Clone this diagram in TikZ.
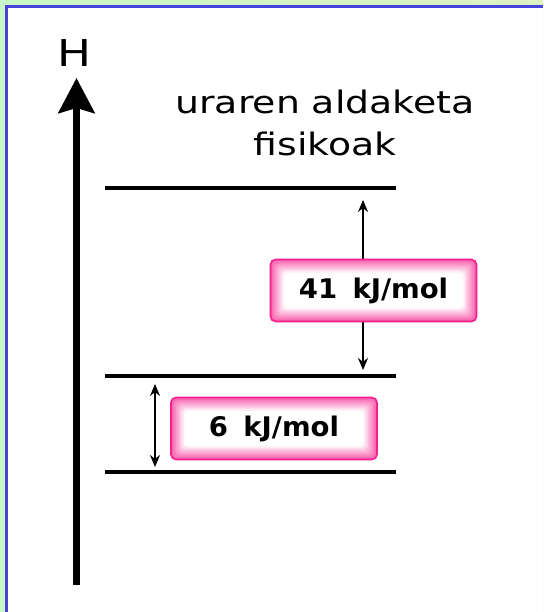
\documentclass[tikz,border=0pt]{standalone}
\usepackage{fontspec}
\setmainfont[FakeStretch=1.22]{DejaVu Sans}
\newfontfamily\boxfont[FakeStretch=1.02,WordSpace=1.6]{DejaVu Sans}
\usetikzlibrary{arrows.meta,calc,positioning}

\definecolor{bggreen}{HTML}{C9F7C6}
\definecolor{bgyellow}{HTML}{DDF1C2}
\definecolor{frameblue}{HTML}{4444DD}
\definecolor{boxpink}{HTML}{F5218E}

\tikzset{
	level/.style={line width=4pt},
	dblarrow/.style={line width=1.5pt,{Stealth[length=12pt,width=10pt]}-{Stealth[length=12pt,width=10pt]}},
	glowbox/.style={draw=boxpink,line width=1.6pt,rounded corners=5pt,
		minimum width=206pt,minimum height=62pt,
		font=\boxfont\bfseries\fontsize{27}{30}\selectfont,
		path picture={
			\foreach \i [evaluate=\i as \p using {int(max(0,72-7*\i))}] in {0,...,11}
				\fill[boxpink!\p!white,rounded corners=4pt]
					($(path picture bounding box.south west)+(\i*1.3pt,\i*1.3pt)$) rectangle
					($(path picture bounding box.north east)-(\i*1.3pt,\i*1.3pt)$);
		}}
}

\begin{document}
\begin{tikzpicture}[x=1pt,y=-1pt]
	\useasboundingbox (0,0) rectangle (543,612);
	% slide background
	\shade[left color=bggreen,right color=bgyellow] (0,0) rectangle (543,612);
	\fill[white] (7,7) rectangle (543,612);
	\draw[frameblue,line width=2.2pt] (6.5,612) -- (6.5,6.5) -- (543,6.5);

	% enthalpy axis
	\coordinate (hbot) at (76.5,585);
	\coordinate (htop) at (76.5,78);
	\draw[line width=7pt,-{Stealth[length=35pt,width=36pt,inset=5pt]}] (hbot) -- (htop);
	\node[font=\fontsize{37}{40}\selectfont,anchor=base] (hlabel) at (74,67) {H};

	\node[font=\fontsize{31}{42}\selectfont,align=center,anchor=north] (title) at (325,86)
		{uraren aldaketa\\fisikoak};

	% levels
	\coordinate (lurrunL) at (105,188);
	\coordinate (lurrunR) at (396,188);
	\coordinate (likidoL) at (105,376);
	\coordinate (likidoR) at (396,376);
	\coordinate (solidoL) at (105,472);
	\coordinate (solidoR) at (396,472);
	\draw[level] (lurrunL) -- (lurrunR);
	\draw[level] (likidoL) -- (likidoR);
	\draw[level] (solidoL) -- (solidoR);

	% arrows
	\coordinate (lurruntop) at (363,200);
	\coordinate (lurrunbot) at (363,370);
	\coordinate (urtutop) at (155,384);
	\coordinate (urtubot) at (155,467);
	\draw[dblarrow] (lurruntop) -- (lurrunbot);
	\draw[dblarrow] (urtutop) -- (urtubot);

	\node[glowbox] (lurrunbox) at (373.5,290.5) {41 kJ/mol};
	\node[glowbox] (urtubox) at (274,428.5) {6 kJ/mol};
\end{tikzpicture}
\end{document}
